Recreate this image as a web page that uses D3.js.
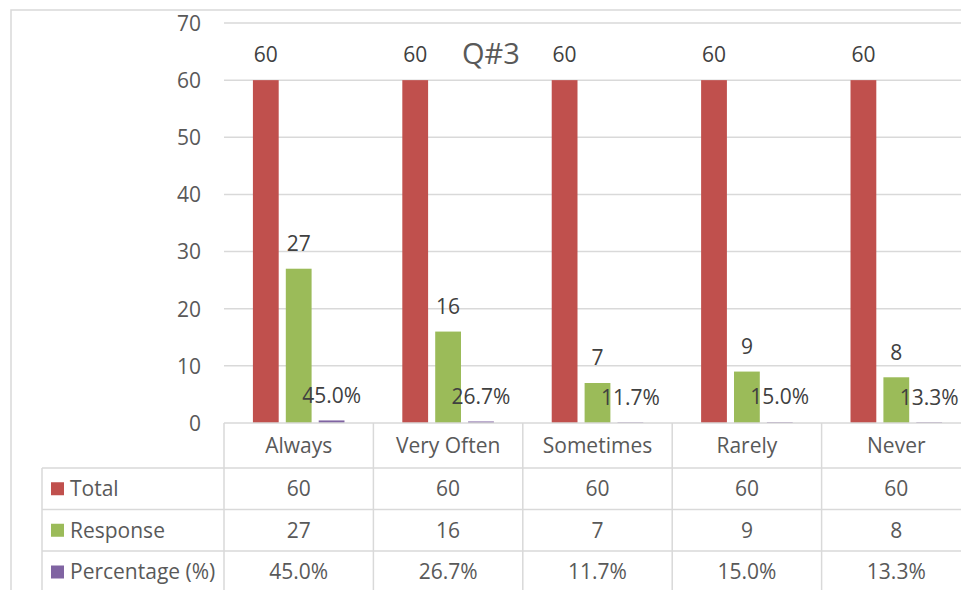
<!DOCTYPE html>
<html><head><meta charset="utf-8">
<script src="https://cdn.jsdelivr.net/npm/d3@7"></script>
<style>
html,body{margin:0;padding:0;background:#fff;overflow:hidden}
svg{display:block;font-family:"Open Sans",sans-serif}
</style></head>
<body>
<svg id="c" width="961" height="590"></svg>
<script>
const categories = ["Always","Very Often","Sometimes","Rarely","Never"];
const seriesNames = ["Total","Response","Percentage (%)"];
const totalValues = [60,60,60,60,60];
const responseValues = [27,16,7,9,8];
const percentageValues = [0.450,0.267,0.117,0.150,0.133];
const yTicks = [0,10,20,30,40,50,60,70];
const title = "Q#3";

const colors = ["#c0504d","#9bbb59","#8064a2"];
const fmt = [d=>String(d), d=>String(d), d=>(d*100).toFixed(1)+"%"];
const series = [totalValues,responseValues,percentageValues];

const svg = d3.select("#c");
const gridCol = "#d9d9d9", txtCol = "#595959", lblCol = "#404040";
const fs = 21;

// outer frame
svg.append("rect").attr("x",11).attr("y",10).attr("width",1000).attr("height",700)
  .attr("fill","none").attr("stroke",gridCol).attr("stroke-width",1.5);

const x = d3.scaleBand().domain(categories).range([224,224+5*149.4]);
const xi = d3.scaleBand().domain(seriesNames).range([0,x.bandwidth()]).paddingInner(0.216).paddingOuter(0.879);
const y = d3.scaleLinear().domain([0,70]).range([423,23]);

// gridlines
svg.append("g").selectAll("line").data(yTicks.filter(t=>t>0)).join("line")
  .attr("x1",224).attr("x2",961).attr("y1",d=>y(d)).attr("y2",d=>y(d))
  .attr("stroke",gridCol).attr("stroke-width",1.5);

// y axis
const ya = svg.append("g").attr("transform","translate(224,0)")
  .call(d3.axisLeft(y).tickValues(yTicks).tickSize(0).tickPadding(23));
ya.select(".domain").remove();
ya.selectAll("text").attr("font-size",fs).attr("fill",txtCol).attr("font-family","Open Sans").attr("dy","0.35em");

// title
svg.append("text").attr("x",491).attr("y",64).attr("text-anchor","middle")
  .attr("font-size",29).attr("fill",txtCol).text(title);

// bars
series.forEach((vals,si)=>{
  const g = svg.append("g");
  g.selectAll("rect").data(vals).join("rect")
    .attr("x",(d,i)=>x(categories[i])+xi(seriesNames[si]))
    .attr("width",xi.bandwidth())
    .attr("y",d=>y(d)).attr("height",d=>y(0)-y(d))
    .attr("fill",colors[si]);
  g.selectAll("text").data(vals).join("text")
    .attr("x",(d,i)=>x(categories[i])+xi(seriesNames[si])+xi.bandwidth()/2)
    .attr("y",d=>y(d)-25).attr("dy","0.35em")
    .attr("text-anchor","middle").attr("font-size",fs).attr("fill",lblCol)
    .text(fmt[si]);
});

// data table
const rowTops = [423,468,509.5,551,593];
const tg = svg.append("g");
tg.append("line").attr("x1",224).attr("x2",961).attr("y1",423).attr("y2",423).attr("stroke",gridCol).attr("stroke-width",1.5);
[468,509.5,551].forEach(yy=>{
  tg.append("line").attr("x1",42).attr("x2",961).attr("y1",yy).attr("y2",yy).attr("stroke",gridCol).attr("stroke-width",1.5);
});
tg.append("line").attr("x1",42).attr("x2",42).attr("y1",468).attr("y2",590).attr("stroke",gridCol).attr("stroke-width",1.5);
categories.forEach(c=>{
  tg.append("line").attr("x1",x(c)).attr("x2",x(c)).attr("y1",423).attr("y2",590).attr("stroke",gridCol).attr("stroke-width",1.5);
});
tg.selectAll("text.h").data(categories).join("text").attr("class","h")
  .attr("x",d=>x(d)+x.bandwidth()/2).attr("y",(rowTops[0]+rowTops[1])/2).attr("dy","0.35em")
  .attr("text-anchor","middle").attr("font-size",fs).attr("fill",txtCol).text(d=>d);
series.forEach((vals,si)=>{
  const cy = (rowTops[si+1]+rowTops[si+2])/2;
  tg.append("rect").attr("x",51).attr("y",cy-6.5).attr("width",13).attr("height",13).attr("fill",colors[si]);
  tg.append("text").attr("x",70).attr("y",cy).attr("dy","0.35em").attr("font-size",fs).attr("fill",txtCol).text(seriesNames[si]);
  tg.selectAll("text.r"+si).data(vals).join("text").attr("class","r"+si)
    .attr("x",(d,i)=>x(categories[i])+x.bandwidth()/2).attr("y",cy).attr("dy","0.35em")
    .attr("text-anchor","middle").attr("font-size",fs).attr("fill",txtCol).text(fmt[si]);
});
</script>
</body></html>
